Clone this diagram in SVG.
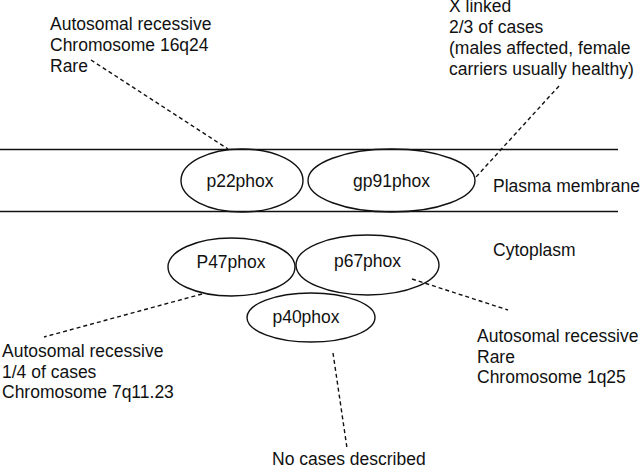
<svg xmlns="http://www.w3.org/2000/svg" width="640" height="467" viewBox="0 0 640 467">
<style>
text{font-family:"Liberation Sans",Arial,sans-serif;font-size:17.5px;fill:#111}
.n ellipse{fill:none;stroke:#111;stroke-width:1.4}
.n text{text-anchor:middle}
.m{stroke:#111;stroke-width:1.4}
#connectors line{stroke:#111;stroke-width:1.4;stroke-dasharray:4 3}
</style>
<rect width="640" height="467" fill="#fff"/>
<g id="membrane">
<line class="m" x1="0" y1="149.5" x2="618" y2="149.5"/>
<line class="m" x1="0" y1="211.5" x2="618" y2="211.5"/>
<text x="493" y="192">Plasma membrane</text>
<text x="493" y="256">Cytoplasm</text>
</g>
<g id="connectors">
<line x1="91" y1="60" x2="228" y2="149"/>
<line x1="559" y1="86" x2="476" y2="177"/>
<line x1="202" y1="294" x2="44" y2="337"/>
<line x1="412" y1="279" x2="508" y2="310"/>
<line x1="333" y1="353" x2="347" y2="448"/>
</g>
<g id="p22phox" class="n"><ellipse cx="242" cy="180.5" rx="61" ry="31.5"/><text x="240" y="187">p22phox</text></g>
<g id="gp91phox" class="n"><ellipse cx="391.5" cy="180.5" rx="83.5" ry="31.5"/><text x="391.5" y="187">gp91phox</text></g>
<g id="P47phox" class="n"><ellipse cx="231.5" cy="267" rx="63.5" ry="29"/><text x="231" y="268">P47phox</text></g>
<g id="p67phox" class="n"><ellipse cx="367.5" cy="265" rx="71.5" ry="30"/><text x="367.5" y="267">p67phox</text></g>
<g id="p40phox" class="n"><ellipse cx="311" cy="317.5" rx="64" ry="24.5"/><text x="306" y="323">p40phox</text></g>
<g id="label-p22">
<text x="50" y="30">Autosomal recessive</text>
<text x="50" y="51">Chromosome 16q24</text>
<text x="50" y="72">Rare</text>
</g>
<g id="label-gp91">
<text x="449" y="12">X linked</text>
<text x="449" y="33">2/3 of cases</text>
<text x="449" y="54">(males affected, female</text>
<text x="449" y="75">carriers usually healthy)</text>
</g>
<g id="label-p47">
<text x="2" y="357">Autosomal recessive</text>
<text x="2" y="377.5">1/4 of cases</text>
<text x="2" y="398">Chromosome 7q11.23</text>
</g>
<g id="label-p67">
<text x="477" y="342">Autosomal recessive</text>
<text x="477" y="363">Rare</text>
<text x="477" y="383">Chromosome 1q25</text>
</g>
<g id="label-p40">
<text x="272" y="465">No cases described</text>
</g>
</svg>
